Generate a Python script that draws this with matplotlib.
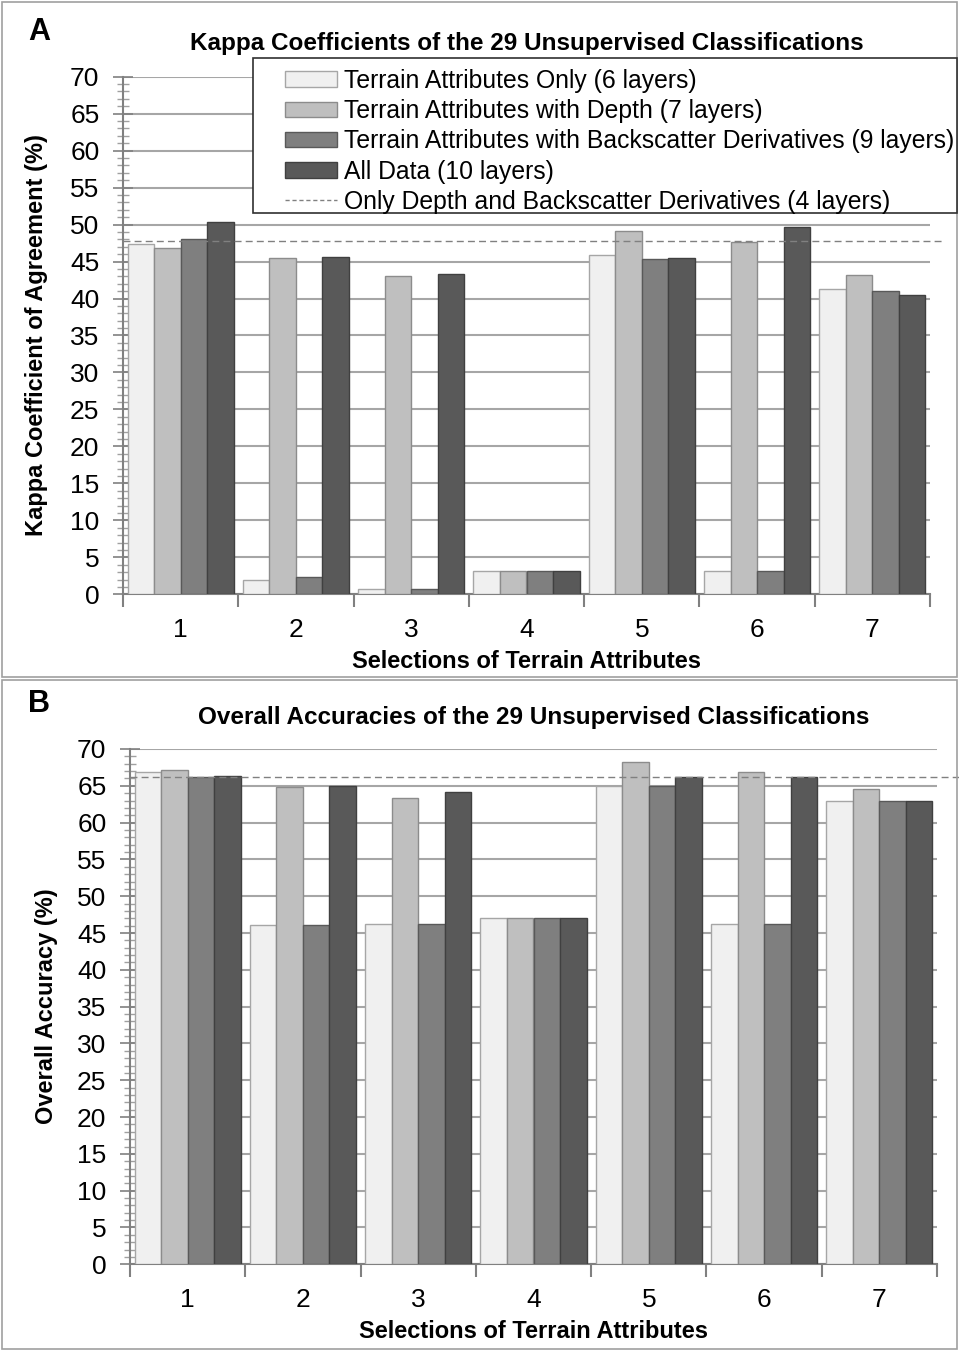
import numpy as np
import matplotlib
matplotlib.use("Agg")
import matplotlib.pyplot as plt
from matplotlib.patches import Patch, Rectangle
from matplotlib.lines import Line2D
from matplotlib.ticker import MultipleLocator, FixedLocator

plt.rcParams['font.family'] = ['Liberation Sans', 'DejaVu Sans']

# data
groups = ['1', '2', '3', '4', '5', '6', '7']
series_names = ['Terrain Attributes Only (6 layers)',
                'Terrain Attributes with Depth (7 layers)',
                'Terrain Attributes with Backscatter Derivatives (9 layers)',
                'All Data (10 layers)']
baseline_name = 'Only Depth and Backscatter Derivatives (4 layers)'

kappa_only = [47.4, 2.0, 0.7, 3.2, 45.9, 3.2, 41.3]
kappa_depth = [46.9, 45.5, 43.1, 3.2, 49.1, 47.6, 43.2]
kappa_backsc = [48.1, 2.3, 0.7, 3.2, 45.4, 3.1, 41.0]
kappa_all = [50.4, 45.6, 43.3, 3.2, 45.5, 49.7, 40.5]
kappa_baseline = 47.8

acc_only = [66.9, 46.1, 46.2, 47.1, 65.0, 46.2, 63.0]
acc_depth = [67.2, 64.8, 63.4, 47.1, 68.3, 66.9, 64.5]
acc_backsc = [66.2, 46.1, 46.2, 47.1, 65.0, 46.2, 62.9]
acc_all = [66.4, 65.0, 64.2, 47.1, 66.2, 66.2, 62.9]
acc_baseline = 66.2

fills = ['#f0f0f0', '#bfbfbf', '#7f7f7f', '#595959']
edges = ['#a6a6a6', '#8c8c8c', '#595959', '#404040']

W, H = 959, 1351
fig = plt.figure(figsize=(W / 100, H / 100), dpi=100)

# panel frames
for y0, y1 in [(2, 677), (680, 1349)]:
    fig.patches.append(Rectangle((2 / W, 1 - y1 / H), 955 / W, (y1 - y0) / H,
                                 transform=fig.transFigure, fill=False,
                                 edgecolor='#a0a0a0', linewidth=1.2))

axA = fig.add_axes([123 / W, 1 - 594.3 / H, 807 / W, 517.6 / H])
axB = fig.add_axes([130 / W, 1 - 1264.3 / H, 807 / W, 515.3 / H])


def draw_panel(ax, series, baseline, title, ylabel, dash_xmax, title_pad, ylabel_pad):
    x = np.arange(1, len(groups) + 1)
    bw = 0.23
    for i, vals in enumerate(series):
        ax.bar(x + (i - 1.5) * bw, vals, bw, color=fills[i],
               edgecolor=edges[i], linewidth=1.0, zorder=3)
    ax.axhline(baseline, xmin=0, xmax=dash_xmax, color='#808080',
               linestyle=(0, (5, 3)), linewidth=1.0, clip_on=False, zorder=4)
    ax.set_xlim(0.5, len(groups) + 0.5)
    ax.set_ylim(0, 70)
    ax.yaxis.set_major_locator(MultipleLocator(5))
    ax.yaxis.set_minor_locator(MultipleLocator(1))
    ax.grid(axis='y', which='major', color='#a6a6a6', linewidth=1.5, zorder=0)
    ax.set_axisbelow(True)
    ax.set_xticks(x)
    ax.set_xticklabels(groups)
    ax.xaxis.set_minor_locator(FixedLocator(np.arange(0.5, len(groups) + 1, 1)))
    ax.tick_params(axis='x', which='major', length=0, labelsize=19, pad=17)
    ax.tick_params(axis='x', which='minor', length=9, direction='out',
                   color='#808080', width=1.5)
    ax.tick_params(axis='y', which='major', length=14, direction='inout',
                   color='#808080', width=1.2, labelsize=19, pad=10)
    ax.tick_params(axis='y', which='minor', length=8, direction='inout',
                   color='#a0a0a0', width=1.0)
    for s in ['top', 'right']:
        ax.spines[s].set_visible(False)
    for s in ['left', 'bottom']:
        ax.spines[s].set_color('#808080')
        ax.spines[s].set_linewidth(1.5)
    ax.set_title(title, fontsize=17.5, fontweight='bold', pad=title_pad)
    ax.set_xlabel('Selections of Terrain Attributes', fontsize=17,
                  fontweight='bold', labelpad=6)
    ax.set_ylabel(ylabel, fontsize=17, fontweight='bold', labelpad=ylabel_pad)


draw_panel(axA, [kappa_only, kappa_depth, kappa_backsc, kappa_all], kappa_baseline,
           'Kappa Coefficients of the 29 Unsupervised Classifications',
           'Kappa Coefficient of Agreement (%)', 1.015, 19, 16)
draw_panel(axB, [acc_only, acc_depth, acc_backsc, acc_all], acc_baseline,
           'Overall Accuracies of the 29 Unsupervised Classifications',
           'Overall Accuracy (%)', 1.03, 18, 14)

fig.text(28 / W, 1 - 32 / H, 'A', fontsize=22, fontweight='bold', va='center')
fig.text(28 / W, 1 - 704 / H, 'B', fontsize=22, fontweight='bold', va='center')

# legend box is wider than its contents in the reference, so draw frame separately
fig.patches.append(Rectangle((253 / W, 1 - 213 / H), 704 / W, 155 / H,
                             transform=fig.transFigure, facecolor='white',
                             edgecolor='#303030', linewidth=1.2, zorder=5))
handles = [Patch(facecolor=fills[i], edgecolor=edges[i], linewidth=1.0)
           for i in range(4)]
handles.append(Line2D([], [], color='#808080', linestyle=(0, (3, 2)), linewidth=1.0))
leg = fig.legend(handles, series_names + [baseline_name],
                 loc='upper left', bbox_to_anchor=(285 / W, 1 - 69 / H),
                 fontsize=17.8, frameon=False,
                 handlelength=2.1, handleheight=0.6, handletextpad=0.3,
                 labelspacing=0.25, borderpad=0, borderaxespad=0)
leg.set_zorder(6)

fig.savefig('out.png', dpi=100)
